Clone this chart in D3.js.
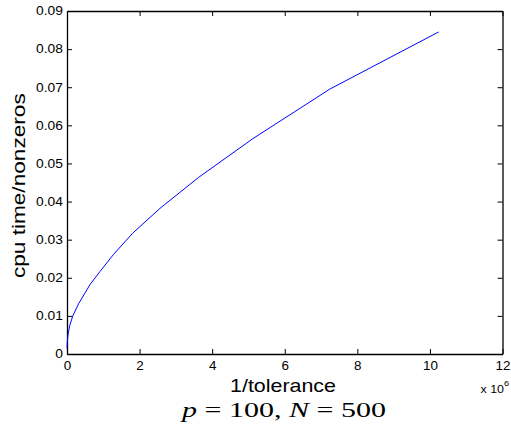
<!DOCTYPE html>
<html>
<head>
<meta charset="utf-8">
<script src="https://cdn.jsdelivr.net/npm/d3@7"></script>
<style>
  body { margin: 0; background: #fff; }
  svg { display: block; }
  .axis path, .axis line { stroke: #000; }
  .axis text { font-family: "Liberation Sans", Arial, sans-serif; font-size: 12px; fill: #000; }
</style>
</head>
<body>
<svg width="511" height="427"></svg>
<script>
// 1/tolerance (x 10^6) and cpu time per nonzero
var invTol = [0.001, 0.005, 0.01, 0.02, 0.04, 0.08, 0.16, 0.32, 0.64, 0.905, 1.28, 1.81, 2.56, 3.62, 5.12, 7.24, 10.24];
var cpuTime = [0.0015, 0.0025, 0.0033, 0.0045, 0.0058, 0.0076, 0.0100, 0.0132, 0.0183, 0.0216, 0.0261, 0.0317, 0.0382, 0.0463, 0.0565, 0.0695, 0.0845];

var xTicks = [0, 2, 4, 6, 8, 10, 12];
var yTicks = [0, 0.01, 0.02, 0.03, 0.04, 0.05, 0.06, 0.07, 0.08, 0.09];

var margin = {top: 11, right: 8.5, bottom: 73, left: 67};
var fullW = 511, fullH = 427;
var width = fullW - margin.left - margin.right;
var height = fullH - margin.top - margin.bottom;

var svg = d3.select("svg");
var g = svg.append("g")
    .attr("transform", "translate(" + margin.left + "," + margin.top + ")");

var x = d3.scaleLinear().domain([0, 12]).range([0, width]);
var y = d3.scaleLinear().domain([0, 0.09]).range([height, 0]);

var data = invTol.map(function(d, i) { return {x: d, y: cpuTime[i]}; });

// stretch text horizontally so it fills a given width
function fit(sel, cx, cy, w, rot) {
    var len = sel.node().getComputedTextLength();
    var s = w / len;
    sel.attr("x", 0).attr("y", 0)
        .attr("transform", "translate(" + cx + "," + cy + ")" + (rot ? " rotate(" + rot + ")" : "") + " scale(" + s + ",1)");
}

// axes: MATLAB style, ticks inside, box on
var xAxis = g.append("g").attr("class", "axis")
    .attr("transform", "translate(0," + height + ")")
    .call(d3.axisBottom(x).tickValues(xTicks).tickSize(-5).tickSizeOuter(0).tickPadding(7)
        .tickFormat(d3.format("d")));
xAxis.selectAll("text").attr("transform", "scale(1.12,1)");

var yAxis = g.append("g").attr("class", "axis")
    .call(d3.axisLeft(y).tickValues(yTicks).tickSize(-5).tickSizeOuter(0).tickPadding(3.6)
        .tickFormat(function(d) { return d === 0 ? "0" : d.toFixed(2); }));
yAxis.selectAll("text").attr("transform", "scale(1.15,1)");

g.append("g").attr("class", "axis")
    .call(d3.axisTop(x).tickValues(xTicks).tickSize(-5).tickSizeOuter(0).tickFormat(""));
g.append("g").attr("class", "axis")
    .attr("transform", "translate(" + width + ",0)")
    .call(d3.axisRight(y).tickValues(yTicks).tickSize(-5).tickSizeOuter(0).tickFormat(""));

g.selectAll(".axis .domain").attr("stroke-width", 1.3);

// the curve
var line = d3.line()
    .x(function(d) { return x(d.x); })
    .y(function(d) { return y(d.y); });

g.append("path")
    .datum(data)
    .attr("fill", "none")
    .attr("stroke", "#0000ff")
    .attr("stroke-width", 1)
    .attr("d", line);

// labels
var xl = svg.append("text")
    .attr("text-anchor", "middle")
    .style("font-family", "Liberation Sans, Arial, sans-serif")
    .style("font-size", "18.5px")
    .text("1/tolerance");
fit(xl, 283, 391.5, 106);

var yl = svg.append("text")
    .attr("text-anchor", "middle")
    .style("font-family", "Liberation Sans, Arial, sans-serif")
    .style("font-size", "18.5px")
    .text("cpu time/nonzeros");
fit(yl, 25, 185.7, 185, -90);

var mult = svg.append("text")
    .attr("x", 480.5).attr("y", 393)
    .style("font-family", "Liberation Sans, Arial, sans-serif")
    .style("font-size", "11px");
mult.append("tspan").text("x 10");
mult.append("tspan").attr("dy", -7).style("font-size", "8px").text("6");
fit(mult, 480.5, 393, 28.5);
mult.attr("text-anchor", "start");

var title = svg.append("text")
    .attr("text-anchor", "middle")
    .style("font-family", "Liberation Serif, Times New Roman, serif")
    .style("font-size", "22px")
    .style("white-space", "pre");
title.append("tspan").style("font-style", "italic").text("p");
title.append("tspan").text(" = 100, ");
title.append("tspan").style("font-style", "italic").text("N");
title.append("tspan").text(" = 500");
fit(title, 284, 417, 204);
</script>
</body>
</html>
